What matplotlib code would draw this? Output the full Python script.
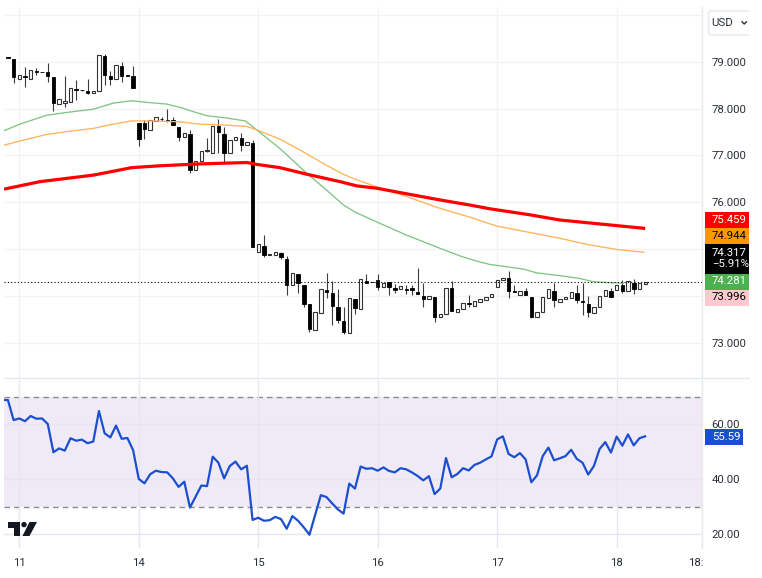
import numpy as np
import matplotlib
matplotlib.use("Agg")
import matplotlib.pyplot as plt
from matplotlib.patches import Rectangle, Polygon, Circle, FancyBboxPatch
from matplotlib.transforms import Bbox

plt.rcParams['font.family'] = ['Roboto', 'DejaVu Sans']

W, H = 762, 578

# ---------- data ----------
first_candle = -2
opens = [79.10,79.06,78.64,78.69,78.63,78.81,78.79,78.78,78.67,78.10,78.12,78.14,78.43,78.41,78.39,78.34,78.39,79.13,78.70,78.63,78.91,78.72,78.70,
 77.69,77.69,77.55,77.73,77.79,77.75,77.76,77.62,77.40,77.47,76.70,76.88,77.09,77.06,77.64,77.47,77.05,77.33,77.38,77.22,77.26,
 74.94,75.06,74.88,74.87,74.91,74.78,74.24,74.47,74.23,73.82,73.27,73.63,74.12,74.05,73.77,73.46,73.21,73.93,73.71,74.32,74.30,
 74.34,74.19,74.29,74.16,74.14,74.14,74.16,74.09,74.00,73.92,73.97,73.54,73.62,74.16,73.65,73.71,73.85,73.79,73.87,73.91,73.98,
 74.19,74.34,74.37,74.10,74.02,74.10,73.98,73.55,73.66,73.96,74.11,73.87,73.92,73.95,74.05,73.89,73.82,73.64,73.75,73.99,74.11,
 74.13,74.23,74.10,74.28,74.14,74.25]
highs = [79.10,79.06,78.72,78.89,78.83,78.87,78.79,78.97,78.67,78.20,78.69,78.45,78.61,78.41,78.63,78.39,79.15,79.17,78.81,78.94,78.99,78.72,78.91,
 77.69,77.76,77.75,77.82,77.82,77.99,77.82,77.62,77.49,77.55,76.88,77.09,77.37,77.64,77.77,77.60,77.33,77.40,77.49,77.28,77.33,
 75.10,75.31,74.90,74.94,74.94,74.84,74.49,74.47,74.23,73.82,73.65,74.15,74.49,74.32,74.14,73.75,73.95,73.93,74.35,74.46,74.30,
 74.46,74.28,74.29,74.25,74.21,74.23,74.23,74.60,74.27,73.99,73.97,73.62,74.17,74.32,73.72,73.84,74.01,73.89,73.92,73.98,74.04,
 74.33,74.39,74.54,74.23,74.11,74.16,73.98,73.66,73.97,74.14,74.28,73.92,73.97,74.07,74.23,74.28,74.00,73.75,74.00,74.12,74.16,
 74.22,74.34,74.31,74.35,74.27,74.29]
lows = [79.09,78.56,78.64,78.47,78.63,78.72,78.78,78.58,77.95,78.10,78.04,78.14,78.19,78.39,78.31,78.34,78.39,78.51,78.51,78.63,78.58,78.71,78.45,
 77.21,77.35,77.55,77.73,77.74,77.72,77.65,77.30,77.40,76.62,76.70,76.88,77.08,77.06,77.05,76.83,77.05,77.33,77.10,77.22,75.04,
 74.94,74.82,74.88,74.87,74.79,74.02,74.24,74.05,73.77,73.23,73.27,73.63,73.95,73.37,73.41,73.18,73.21,73.62,73.71,74.28,74.29,
 74.12,74.19,74.02,74.05,74.14,74.03,74.02,74.04,73.77,73.92,73.43,73.54,73.62,73.67,73.65,73.71,73.75,73.79,73.87,73.91,73.98,
 74.19,74.34,73.96,74.07,74.02,74.02,73.53,73.55,73.66,73.96,73.75,73.87,73.92,73.95,73.84,73.59,73.55,73.64,73.75,73.99,73.97,
 74.13,74.06,74.10,74.04,74.14,74.25]
closes = [79.09,78.67,78.72,78.67,78.83,78.79,78.78,78.70,78.12,78.20,78.17,78.45,78.41,78.40,78.34,78.39,79.15,78.72,78.63,78.94,78.70,78.71,78.45,
 77.35,77.57,77.75,77.82,77.78,77.74,77.65,77.40,77.49,76.70,76.88,77.09,77.11,77.64,77.51,77.06,77.33,77.40,77.22,77.28,75.04,
 75.10,74.87,74.89,74.94,74.82,74.23,74.49,74.27,73.82,73.29,73.65,74.15,74.07,73.79,73.48,73.23,73.95,73.73,74.35,74.28,74.29,
 74.19,74.28,74.18,74.12,74.21,74.13,74.12,74.04,73.94,73.99,73.55,73.62,74.17,73.67,73.72,73.84,73.83,73.89,73.92,73.98,74.04,
 74.33,74.39,74.11,74.07,74.11,74.02,73.55,73.66,73.97,74.14,73.91,73.92,73.97,74.07,73.91,73.86,73.66,73.75,74.00,74.12,73.97,
 74.22,74.10,74.31,74.14,74.27,74.29]

green_x = [-2.7,0.1,4.8,8.3,13,16.5,19.75,23,25.9,28.5,30.5,33,36.5,39.7,41.7,45.8,50.5,54,57,59,62.8,68,73.4,77.5,80.4,82.7,88.6,90.9,95,98.5,100.9,103.8,106.2]
green_y = [77.53,77.67,77.86,77.92,77.99,78.12,78.17,78.13,78.10,78.02,77.94,77.85,77.80,77.74,77.55,77.15,76.62,76.26,75.94,75.79,75.58,75.30,75.04,74.85,74.74,74.67,74.57,74.49,74.43,74.37,74.30,74.28,74.27]
orange_x = [-2.7,0.1,4.8,8.3,13,16.5,19.75,23,28.2,31.75,36.5,40,41.7,45.8,49.3,53.4,56.9,59.3,62.8,68.1,73.4,79.2,83.9,90.3,95,99.7,105,109.8]
orange_y = [77.22,77.31,77.45,77.51,77.58,77.67,77.74,77.74,77.72,77.67,77.65,77.62,77.55,77.35,77.12,76.83,76.60,76.48,76.33,76.12,75.89,75.68,75.49,75.34,75.23,75.10,74.99,74.93]
red_x = [-2.7,3.6,13,19.75,24.7,31.75,40,41.7,45.8,50.5,56.4,59.3,62.8,68.1,73.9,79.2,82.7,89.8,95,110]
red_y = [76.28,76.44,76.58,76.74,76.78,76.82,76.85,76.81,76.74,76.60,76.44,76.35,76.30,76.18,76.05,75.94,75.86,75.73,75.62,75.44]

first_rsi = -3
rsi = [68.9,68.9,61.6,62.2,61.2,63.1,62.1,62.2,60.2,49.9,51.3,50.5,55.0,54.1,54.5,53.2,53.8,64.9,56.8,55.3,59.6,54.8,55.1,50.7,
 40.2,38.6,41.9,43.2,42.7,42.6,40.4,37.3,39.2,29.8,33.8,37.8,37.6,48.3,46.1,40.4,44.9,46.5,43.7,45.0,25.3,
 26.1,25.0,25.2,26.4,25.6,22.1,26.7,25.0,22.6,19.9,27.1,34.3,33.6,31.3,29.1,27.6,38.5,36.7,44.7,43.9,44.1,
 43.2,44.4,43.1,42.6,44.1,43.7,42.6,41.3,39.7,41.2,34.7,36.7,47.8,40.8,42.0,44.1,43.3,45.3,46.1,47.3,48.4,
 54.6,55.7,49.3,48.1,49.6,47.3,39.0,41.5,48.5,51.6,47.0,47.7,48.5,50.8,47.5,46.1,41.8,44.9,51.1,53.6,49.8,
 55.6,52.3,56.4,52.4,55.0,55.7]

day_ticks = [0, 21, 42, 63, 84, 105, 120]
day_labels = ['11', '14', '15', '16', '17', '18', '18:00']
price_ticks = [73, 74, 75, 76, 77, 78, 79, 80]
# the 74 and 75 labels sit behind the price tags in the reference, so they stay blank
price_labels = ['73.000', '', '', '76.000', '77.000', '78.000', '79.000', '']
rsi_ticks = [20, 40, 60]
rsi_labels = ['20.00', '40.00', '60.00']
tag_labels = ['75.459', '74.944', '74.317\n\u22125.91%', '74.281', '73.996']
rsi_tag = '55.59'
currency = 'USD'

# ---------- layout ----------
GRID = '#f2f3f6'
TXT = '#2a2e39'
fig = plt.figure(figsize=(W / 100, H / 100), dpi=100)
fig.patch.set_facecolor('white')

def px_axes(x0, y0, x1, y1, **kw):
    return fig.add_axes([x0 / W, 1 - y1 / H, (x1 - x0) / W, (y1 - y0) / H], **kw)

ax = px_axes(4, 7, 702, 378)
ar = px_axes(4, 380, 702, 548)
xlim = (-2.689, 119.98)
ax.set_xlim(*xlim)
ar.set_xlim(*xlim)
ax.set_ylim(72.241, 80.176)
ar.set_ylim(15.09, 76.18)

for a in (ax, ar):
    a.set_facecolor('none')
    a.yaxis.tick_right()
    a.tick_params(length=0, labelcolor=TXT, labelsize=8.2)
    a.tick_params(axis='y', pad=7)
    a.grid(True, color=GRID, lw=1)
    a.set_axisbelow(True)
    for s in ('top', 'left', 'bottom'):
        a.spines[s].set_visible(False)
    a.spines['right'].set_color('#e8eaef')
    a.spines['right'].set_linewidth(1)

ax.set_yticks(price_ticks, price_labels)
ax.set_xticks(day_ticks[:-1], [''] * (len(day_ticks) - 1))
ar.set_yticks(rsi_ticks, rsi_labels)
ar.set_xticks(day_ticks, day_labels)
ar.tick_params(axis='x', pad=7.5)
ar.xaxis.get_ticklabels()[-1].set_clip_box(Bbox([[0, 0], [703, H]]))
ar.xaxis.get_ticklabels()[-1].set_clip_on(True)

# ---------- candles ----------
idx = np.arange(first_candle, first_candle + len(opens))
o, h, l, c = map(np.array, (opens, highs, lows, closes))
ax.vlines(idx, l, h, color='#3c3c3c', lw=0.8, zorder=3)
up = c >= o
bw = 0.6
ax.bar(idx[up], (c - o)[up], bottom=o[up], width=bw, facecolor='white', edgecolor='#333333', lw=0.8, zorder=4)
ax.bar(idx[~up], (o - c)[~up], bottom=c[~up], width=bw, facecolor='black', edgecolor='black', lw=0.6, zorder=4)

# ---------- moving averages ----------
ax.plot(green_x, green_y, color='#80c584', lw=0.95, zorder=5)
ax.plot(orange_x, orange_y, color='#ffb35c', lw=0.95, zorder=5)
ax.plot(red_x, red_y, color='#ff0000', lw=2.3, zorder=5, solid_capstyle='butt')

# last price line
ax.axhline(closes[-1], color='black', lw=0.8, ls=(0, (1, 2)), zorder=6)

# ---------- RSI ----------
ar.axhspan(30, 70, xmin=0, xmax=1.002, facecolor='#efeaf6', edgecolor='none', zorder=0.5, clip_on=False)
ar.set_axisbelow(False)
ar.grid(True, color='#e8e5f0', lw=1, zorder=1)
for lev in (30, 70):
    ar.axhline(lev, color='#8a8a90', lw=1, ls=(0, (4, 3)), zorder=2)
ar.plot(np.arange(first_rsi, first_rsi + len(rsi)), rsi, color='#1c4fcf', lw=1.6, zorder=3, solid_joinstyle='round')

# ---------- overlay: price tags, currency button, logo ----------
ov = fig.add_axes([0, 0, 1, 1], zorder=10)
ov.set_xlim(0, W)
ov.set_ylim(H, 0)
ov.axis('off')
ov.patch.set_alpha(0)

ov.plot([4, 749], [378, 378], color='#e3e9f1', lw=1)

tag_boxes = [(212, 228, '#ff0000', 'white'), (228, 244, '#ff9800', 'black'),
             (244, 273.5, '#000000', 'white'), (273.5, 289.5, '#4caf50', 'white'),
             (289.5, 305.5, '#ffc9cf', 'black')]
for (y0, y1, col, tc), lab in zip(tag_boxes, tag_labels):
    ov.add_patch(Rectangle((705, y0), 44, y1 - y0, facecolor=col, edgecolor='none'))
    ov.text(712, (y0 + y1) / 2, lab, color=tc, fontsize=8.2, ha='left', va='center', linespacing=1.15)

ov.add_patch(Rectangle((705, 429), 38, 15.7, facecolor='#1a4fd0', edgecolor='none'))
ov.text(712, 437, rsi_tag, color='white', fontsize=8.2, ha='left', va='center')

ov.add_patch(FancyBboxPatch((708.5, 11), 44, 24, boxstyle='round,pad=0,rounding_size=3',
                            facecolor='white', edgecolor='#e3e6ef', lw=1))
ov.add_patch(Rectangle((749, 6), 13, 33, facecolor='white', edgecolor='none'))
ov.text(711, 23, currency, color=TXT, fontsize=8.2, ha='left', va='center')
ov.plot([742, 744.2, 746.4], [21.8, 24, 21.8], color=TXT, lw=1.0)

ov.add_patch(Polygon([(8, 522), (19.5, 522), (19.5, 536), (13.5, 536), (13.5, 528), (8, 528)], facecolor='#131722', edgecolor='none'))
ov.add_patch(Circle((24, 524.6), 2.7, facecolor='#131722', edgecolor='none'))
ov.add_patch(Polygon([(29.5, 522), (37, 522), (29.5, 536), (22.5, 536)], facecolor='#131722', edgecolor='none'))

fig.savefig('out.png', dpi=100)
